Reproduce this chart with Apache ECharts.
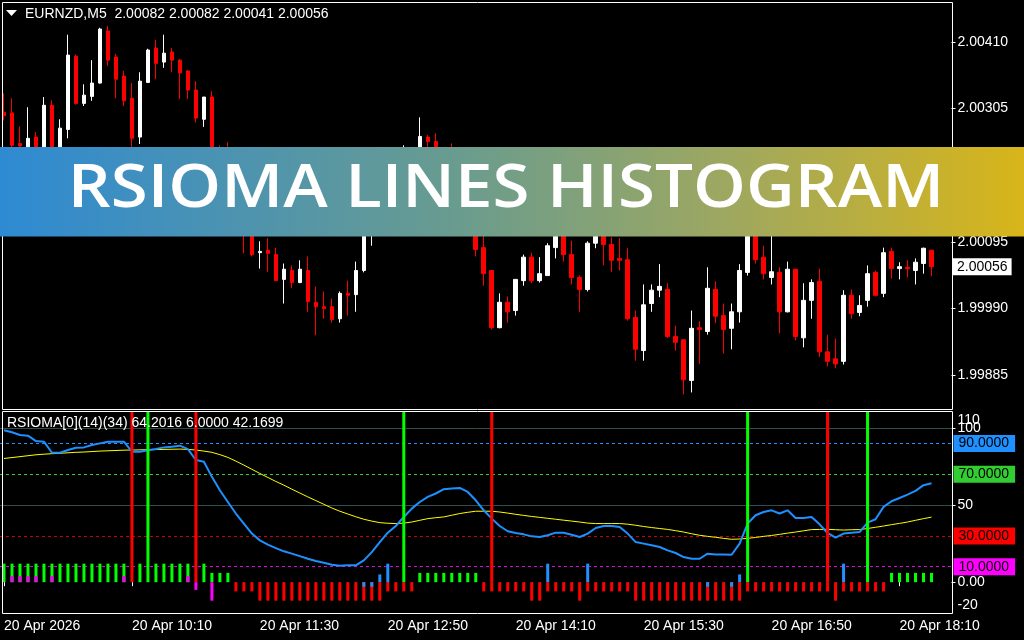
<!DOCTYPE html>
<html><head><meta charset="utf-8">
<script src="https://cdn.jsdelivr.net/npm/echarts@6/dist/echarts.min.js"></script>
<style>html,body{margin:0;padding:0;background:#000}#c{width:1024px;height:640px}</style>
</head><body><div id="c"></div>
<script>
const _ = null;
const symbolTitle = 'EURNZD,M5  2.00082 2.00082 2.00041 2.00056';
const indicatorTitle = 'RSIOMA[0](14)(34) 64.2016 6.0000 42.1699';
const bannerText = 'RSIOMA LINES HISTOGRAM';
const tickIdx = [0, 16, 32, 48, 64, 80, 96, 112];
const tickLabels = ['20 Apr 2026', '20 Apr 10:10', '20 Apr 11:30', '20 Apr 12:50', '20 Apr 14:10', '20 Apr 15:30', '20 Apr 16:50', '20 Apr 18:10'];
const priceTicks = [1.99885, 1.99990, 2.00095, 2.00200, 2.00305, 2.00410];
const indTicks = [-20, 0, 50, 100];
const indTopTick = 110;
const lastPrice = 2.00056;
const levelValues = [100, 90, 70, 50, 30, 10];

const open = [2.00299,2.00298,2.00250,2.00223,2.00260,2.00216,2.00310,2.00223,2.00272,2.00387,
2.00313,2.00324,2.00345,2.00427,2.00386,2.00356,2.00321,2.00260,2.00346,2.00400,
2.00378,2.00394,2.00381,2.00364,2.00334,2.00288,2.00323,2.00184,2.00153,2.00129,
2.00121,2.00116,2.00078,2.00082,2.00075,2.00036,2.00050,2.00031,2.00050,2.00000,
1.99993,1.99993,1.99974,2.00014,2.00012,2.00050,2.00119,2.00160,2.00192,2.00176,
2.00214,2.00236,2.00211,2.00260,2.00253,2.00205,2.00230,2.00198,2.00223,2.00160,
2.00086,2.00050,1.99960,2.00000,1.99987,2.00034,2.00071,2.00034,2.00042,2.00086,
2.00121,2.00075,2.00039,2.00020,2.00093,2.00116,2.00091,2.00069,2.00067,1.99976,
1.99924,1.99998,2.00019,2.00020,1.99946,1.99941,1.99877,1.99960,1.99954,2.00020,
1.99979,1.99959,1.99985,2.00047,2.00110,2.00071,2.00039,2.00047,1.99985,2.00052,
1.99944,2.00003,2.00033,1.99922,1.99911,1.99907,2.00011,1.99984,2.00003,2.00047,
2.00014,2.00080,2.00053,2.00055,2.00050,2.00061,2.00082];
const high = [2.00329,2.00321,2.00277,2.00307,2.00268,2.00323,2.00318,2.00288,2.00421,2.00390,
2.00343,2.00381,2.00432,2.00435,2.00391,2.00364,2.00345,2.00362,2.00399,2.00413,
2.00421,2.00400,2.00383,2.00366,2.00348,2.00323,2.00332,2.00247,2.00252,2.00153,
2.00145,2.00129,2.00096,2.00101,2.00086,2.00061,2.00058,2.00066,2.00072,2.00025,
2.00017,2.00006,2.00017,2.00034,2.00064,2.00132,2.00173,2.00200,2.00205,2.00223,
2.00247,2.00239,2.00291,2.00263,2.00266,2.00244,2.00250,2.00236,2.00231,2.00168,
2.00113,2.00050,2.00014,2.00009,2.00036,2.00075,2.00078,2.00071,2.00093,2.00129,
2.00132,2.00097,2.00042,2.00096,2.00126,2.00126,2.00102,2.00101,2.00085,1.99987,
2.00028,2.00028,2.00060,2.00030,1.99963,1.99941,1.99987,1.99970,2.00055,2.00033,
1.99998,1.99998,2.00060,2.00129,2.00137,2.00089,2.00113,2.00055,2.00064,2.00052,
2.00030,2.00036,2.00053,1.99949,1.99943,2.00019,2.00020,2.00011,2.00058,2.00050,
2.00086,2.00086,2.00063,2.00066,2.00069,2.00086,2.00082];
const low = [2.00286,2.00239,2.00239,2.00216,2.00205,2.00208,2.00211,2.00216,2.00258,2.00311,
2.00309,2.00317,2.00344,2.00372,2.00321,2.00309,2.00244,2.00249,2.00345,2.00351,
2.00369,2.00362,2.00320,2.00320,2.00283,2.00276,2.00168,2.00141,2.00119,2.00105,
2.00077,2.00072,2.00053,2.00048,2.00034,1.99998,2.00022,2.00030,1.99985,1.99948,
1.99974,1.99968,1.99968,1.99979,1.99985,2.00047,2.00089,2.00153,2.00168,2.00168,
2.00205,2.00198,2.00205,2.00231,2.00208,2.00195,2.00192,2.00189,2.00160,2.00072,
2.00026,1.99957,1.99959,1.99968,1.99979,2.00026,2.00030,2.00031,2.00042,2.00069,
2.00064,2.00028,1.99985,2.00017,2.00085,2.00058,2.00048,2.00050,1.99971,1.99908,
1.99908,1.99985,2.00008,1.99944,1.99924,1.99855,1.99858,1.99903,1.99949,1.99967,
1.99919,1.99926,1.99968,2.00042,2.00061,2.00036,2.00028,1.99951,1.99984,1.99940,
1.99929,1.99974,1.99914,1.99899,1.99896,1.99902,1.99974,1.99978,1.99993,2.00009,
2.00008,2.00037,2.00036,2.00039,2.00028,2.00045,2.00041];
const close = [2.00294,2.00247,2.00246,2.00258,2.00216,2.00310,2.00223,2.00274,2.00389,2.00313,
2.00326,2.00345,2.00430,2.00381,2.00351,2.00317,2.00258,2.00348,2.00397,2.00376,
2.00392,2.00381,2.00361,2.00334,2.00290,2.00323,2.00184,2.00153,2.00129,2.00110,
2.00107,2.00075,2.00080,2.00077,2.00034,2.00052,2.00031,2.00052,2.00001,1.99993,
1.99990,1.99973,2.00014,2.00011,2.00050,2.00121,2.00160,2.00192,2.00176,2.00216,
2.00236,2.00208,2.00261,2.00253,2.00216,2.00231,2.00200,2.00223,2.00168,2.00083,
2.00045,1.99960,2.00000,1.99985,2.00036,2.00071,2.00034,2.00045,2.00089,2.00121,
2.00075,2.00039,2.00020,2.00093,2.00116,2.00091,2.00066,2.00066,1.99974,1.99926,
1.99996,2.00019,2.00025,1.99946,1.99937,1.99878,1.99959,1.99957,2.00022,1.99978,
1.99957,1.99985,2.00050,2.00121,2.00067,2.00045,2.00048,1.99985,2.00052,1.99946,
2.00003,2.00031,1.99922,1.99907,1.99903,2.00011,1.99982,1.99995,2.00045,2.00011,
2.00078,2.00053,2.00056,2.00053,2.00063,2.00085,2.00056];

const rsi = [98.5,97.2,95.4,95.0,91.5,91.1,83.9,83.9,85.7,87.2,
87.4,88.9,90.0,91.1,91.1,91.1,84.6,84.6,85.6,86.3,
87.4,87.8,88.5,86.3,79.2,78.1,68.3,59.6,52.0,44.5,
38.0,31.5,27.1,24.3,22.1,20.0,18.5,16.9,15.2,13.7,
12.6,11.3,10.7,10.9,10.9,14.1,19.5,26.0,32.1,36.4,
42.3,47.7,52.0,55.3,57.5,60.3,60.7,61.1,58.5,53.1,
46.6,41.2,36.4,33.0,31.9,31.0,29.7,29.3,30.4,32.1,
32.1,30.8,29.3,31.5,35.1,36.4,36.4,35.8,31.5,26.0,
25.0,23.9,22.8,20.6,18.9,16.3,15.2,15.2,18.5,18.0,
18.0,17.8,25.0,38.0,43.4,45.5,46.6,44.5,46.6,41.6,
41.6,42.3,37.5,31.9,28.9,31.5,32.1,32.5,38.6,40.8,
48.8,52.5,54.6,56.8,59.2,62.9,64.2];
const signal = [80.2,80.8,81.4,82.0,82.6,83.0,83.3,83.6,83.9,84.2,
84.4,84.7,85.0,85.2,85.4,85.6,85.7,85.8,85.9,86.0,
86.1,86.2,86.3,86.1,85.7,85.0,84.2,82.7,80.9,78.5,
75.9,73.2,70.5,67.9,65.3,62.9,60.3,57.8,55.3,52.9,
50.5,48.1,46.0,44.2,42.4,40.8,39.6,38.6,38.2,38.0,
38.3,39.0,40.1,41.2,41.8,42.3,43.4,44.5,45.3,46.0,
46.0,46.0,45.5,44.8,44.0,43.3,42.6,42.0,41.4,40.8,
40.2,39.6,39.0,38.3,38.0,38.0,38.0,38.0,37.6,36.9,
36.1,35.4,34.8,34.2,33.4,32.5,31.4,30.4,29.7,29.1,
28.4,27.8,28.0,28.4,29.0,29.7,30.3,31.0,31.8,32.5,
33.3,34.1,34.2,34.3,34.0,33.8,34.0,34.1,34.8,35.6,
36.4,37.3,38.1,39.0,40.1,41.2,42.17];

const greenHist = [12,12,12,12,12,12,12,12,12,12,
12,12,12,12,12,12,_,12,_,12,
12,12,12,12,_,12,6,6,6,_,
_,_,_,_,_,_,_,_,_,_,
_,_,_,_,_,_,_,_,_,_,
_,_,6,6,6,6,6,6,6,6,
_,_,_,_,_,_,_,_,_,_,
_,_,_,_,_,_,_,_,_,_,
_,_,_,_,_,_,_,_,_,_,
_,_,_,_,_,_,_,_,_,_,
_,_,_,_,_,_,_,_,_,_,
_,6,6,6,6,6,6];
const redHist = [_,_,_,_,_,_,_,_,_,_,
_,_,_,_,_,_,_,_,_,_,
_,_,_,_,_,_,_,_,_,-6,
-6,-6,-12,-12,-12,-12,-12,-12,-12,-12,
-12,-12,-12,-12,-12,-12,-12,-12,-6,-6,
-6,-6,_,_,_,_,_,_,_,_,
-6,-6,-6,-6,-6,-6,-12,-12,-6,-6,
-6,-6,-12,-6,-6,-6,-6,-6,-6,-12,
-12,-12,-12,-12,-12,-12,-12,-12,-12,-12,
-12,-12,-12,-6,-6,-6,-6,-6,-6,-6,
-6,-6,-6,-6,-12,-6,-6,-6,-6,-6,
-6,_,_,_,_,_,_];
const magentaHist = [[1,4],[2,4],[3,4],[4,4],[6,4],[15,4],[23,4],[24,-5],[26,-12]];
const blueHist = [[45,-3],[46,-3],[47,5],[48,12],[68,12],[73,12],[88,-3],[91,-3],[92,5],[105,12]];
const sellSignals = [[16,111],[24,111],[61,111],[103,111]];
const buySignals = [[18,111],[50,111],[93,111],[108,111]];

const F = 'Liberation Sans';
const cats = [];
for (let k = 0; k < 119; k++) {
  const m = 8 * 60 + 50 + 5 * k;
  cats.push(String(Math.floor(m / 60)).padStart(2, '0') + ':' + String(m % 60).padStart(2, '0'));
}
const candleData = open.map((o, k) => [o, close[k], low[k], high[k]]);

const levelStyle = {
  100: { color: '#2F4F4F', type: 'solid', label: null },
  90: { color: '#1E90FF', type: [3, 3], label: '90.0000' },
  70: { color: '#32CD32', type: [3, 3], label: '70.0000' },
  50: { color: '#2F4F4F', type: 'solid', label: null },
  30: { color: '#D00000', type: [3, 3], label: '30.0000', bg: '#FF0000' },
  10: { color: '#E000E0', type: [3, 3], label: '10.0000', bg: '#FF00FF' }
};
const levelData = levelValues.map(v => {
  const s = levelStyle[v];
  return {
    yAxis: v,
    lineStyle: { color: s.color, type: s.type, width: 1 },
    label: s.label ? { show: true, formatter: s.label, backgroundColor: s.bg || s.color } : { show: false }
  };
});

const chart = echarts.init(document.getElementById('c'), null, { renderer: 'canvas' });
const isTick = (i) => tickIdx.indexOf(i) >= 0;
chart.setOption({
  backgroundColor: '#000',
  animation: false,
  grid: [
    { left: -0.5, top: 3, width: 952, height: 406, show: false },
    { left: -0.5, top: 411, width: 952, height: 202, show: false }
  ],
  xAxis: [
    { type: 'category', gridIndex: 0, data: cats, show: false },
    {
      type: 'category', gridIndex: 1, data: cats,
      axisLine: { show: false },
      axisTick: { show: true, alignWithLabel: true, interval: isTick, length: 4, lineStyle: { color: '#fff' } },
      axisLabel: {
        interval: isTick, formatter: (v, i) => tickLabels[tickIdx.indexOf(i)],
        align: 'left', color: '#fff', fontFamily: F, fontSize: 14, margin: 6
      },
      splitLine: { show: false }
    }
  ],
  yAxis: [
    {
      type: 'value', gridIndex: 0, position: 'right', min: 1.99832, max: 2.00471, scale: true,
      axisLine: { show: false }, splitLine: { show: false },
      axisTick: { show: true, customValues: priceTicks, length: 4, lineStyle: { color: '#fff' } },
      axisLabel: { customValues: priceTicks, formatter: v => v.toFixed(5), color: '#fff', fontFamily: F, fontSize: 14, margin: 6 }
    },
    {
      type: 'value', gridIndex: 1, position: 'right', min: -20, max: 111,
      axisLine: { show: false }, splitLine: { show: false },
      axisTick: { show: true, customValues: [0, 50, 100], length: 4, lineStyle: { color: '#fff' } },
      axisLabel: {
        customValues: indTicks, hideOverlap: false,
        formatter: v => v === -20 ? '{up|-20}' : v === 0 ? '0.00' : String(v),
        color: '#fff', fontFamily: F, fontSize: 14, margin: 6,
        rich: {
          up: { padding: [0, 0, 16, 0], color: '#fff', fontFamily: F, fontSize: 14 }
        }
      }
    }
  ],
  series: [
    {
      type: 'candlestick', xAxisIndex: 0, yAxisIndex: 0, data: candleData, barWidth: 4,
      itemStyle: { color: '#FFFFFF', color0: '#FF0000', borderColor: '#FFFFFF', borderColor0: '#FF0000', borderWidth: 1 }
    },
    { type: 'bar', xAxisIndex: 1, yAxisIndex: 1, data: redHist, barWidth: 3, barGap: '-100%', itemStyle: { color: '#FF0000' }, z: 2 },
    { type: 'bar', xAxisIndex: 1, yAxisIndex: 1, data: greenHist, barWidth: 3, barGap: '-100%', itemStyle: { color: '#00FF00' }, z: 2 },
    { type: 'bar', xAxisIndex: 1, yAxisIndex: 1, data: magentaHist, barWidth: 3, barGap: '-100%', itemStyle: { color: '#FF00FF' }, z: 3 },
    { type: 'bar', xAxisIndex: 1, yAxisIndex: 1, data: blueHist, barWidth: 3, barGap: '-100%', itemStyle: { color: '#1E90FF' }, z: 3 },
    {
      type: 'line', xAxisIndex: 1, yAxisIndex: 1, data: signal, symbol: 'none',
      lineStyle: { color: '#FFFF00', width: 1 }, z: 4,
      markLine: {
        symbol: ['none', 'none'], silent: true, animation: false, z: 1,
        label: { position: 'end', color: '#000', fontFamily: F, fontSize: 14, padding: [2, 6, 1, 5], distance: 2 },
        data: levelData
      }
    },
    { type: 'line', xAxisIndex: 1, yAxisIndex: 1, data: rsi, symbol: 'none', lineStyle: { color: '#1E90FF', width: 2 }, z: 5 },
    { type: 'bar', xAxisIndex: 1, yAxisIndex: 1, data: sellSignals, barWidth: 3, barGap: '-100%', itemStyle: { color: '#FF0000' }, z: 6 },
    { type: 'bar', xAxisIndex: 1, yAxisIndex: 1, data: buySignals, barWidth: 3, barGap: '-100%', itemStyle: { color: '#00FF00' }, z: 6 }
  ],
  graphic: [
    { id: 'box1', type: 'rect', z: 50, silent: true, shape: { x: 2.5, y: 2.5, width: 950, height: 407 }, style: { fill: 'none', stroke: '#FFFFFF', lineWidth: 1 } },
    { id: 'box2', type: 'rect', z: 50, silent: true, shape: { x: 2.5, y: 411.5, width: 950, height: 202 }, style: { fill: 'none', stroke: '#FFFFFF', lineWidth: 1 } },
    { id: 'tri', type: 'polygon', z: 50, silent: true, shape: { points: [[6, 10], [17, 10], [11.5, 16]] }, style: { fill: '#FFFFFF' } },
    { id: 't1', type: 'text', z: 50, silent: true, x: 25, y: 14, style: { text: symbolTitle, fill: '#FFFFFF', fontFamily: F, fontSize: 14, verticalAlign: 'middle', textVerticalAlign: 'middle' } },
    { id: 't2', type: 'text', z: 50, silent: true, x: 7, y: 423.5, style: { text: indicatorTitle, fill: '#FFFFFF', fontFamily: F, fontSize: 14, verticalAlign: 'middle', textVerticalAlign: 'middle' } },
    {
      id: 'banner', type: 'rect', z: 100, silent: true, shape: { x: 0, y: 147, width: 1024, height: 89.5 },
      style: { fill: new echarts.graphic.LinearGradient(0, 0, 1, 0, [
        { offset: 0, color: '#2E8AD3' }, { offset: 0.45, color: '#6A9C8E' }, { offset: 0.72, color: '#A0A85E' }, { offset: 1, color: '#D8B519' }
      ]) }
    },
    {
      id: 'bannerText', type: 'text', z: 101, silent: true, x: 506, y: 190, scaleX: 1.14,
      style: { text: bannerText, fill: '#FFFFFF', fontFamily: 'Open Sans', fontWeight: 600, fontSize: 59,
        align: 'center', verticalAlign: 'middle', textAlign: 'center', textVerticalAlign: 'middle' }
    }
  ]
});

// price tag and the top indicator tick placed through the library's own scales
const yLast = chart.convertToPixel({ yAxisIndex: 0 }, lastPrice);
const yTop = chart.convertToPixel({ yAxisIndex: 1 }, indTopTick);
chart.setOption({
  graphic: [
    { id: 'priceTag', type: 'text', z: 60, silent: true, x: 953, y: yLast,
      style: { text: lastPrice.toFixed(5), fill: '#000', backgroundColor: '#FFFFFF', padding: [2, 4, 1, 4],
        fontFamily: F, fontSize: 14, verticalAlign: 'middle', textVerticalAlign: 'middle' } },
    { id: 'topTick', type: 'text', z: 60, silent: true, x: 957.5, y: yTop + 8,
      style: { text: String(indTopTick), fill: '#FFFFFF', fontFamily: F, fontSize: 14, verticalAlign: 'middle', textVerticalAlign: 'middle' } }
  ]
});
</script>
</body></html>
